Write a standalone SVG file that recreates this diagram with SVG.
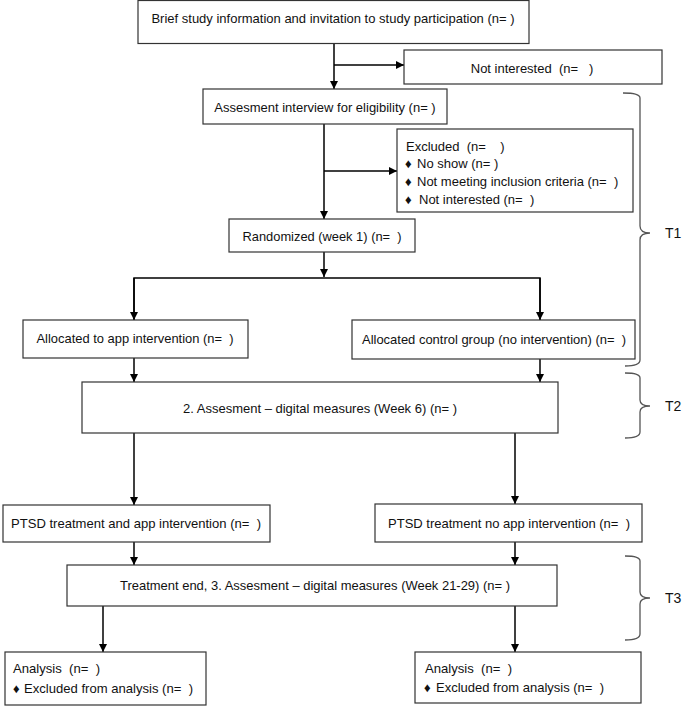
<svg xmlns="http://www.w3.org/2000/svg" width="685" height="706" viewBox="0 0 685 706">
<defs>
<marker id="ah" viewBox="0 0 10 10" refX="10" refY="5" markerWidth="8" markerHeight="8" markerUnits="userSpaceOnUse" orient="auto">
<path d="M0,0 L10,5 L0,10 z" fill="#000"/>
</marker>
<style>
.box{fill:#fff;stroke:#333;stroke-width:1.2}
.t{font-family:"Liberation Sans",Arial,sans-serif;font-size:13px;fill:#111}
.c{text-anchor:middle}
.con{fill:none;stroke:#000;stroke-width:1.5}
.arr{marker-end:url(#ah)}
.br{fill:none;stroke:#555;stroke-width:1.3}
.bl{font-family:"Liberation Sans",Arial,sans-serif;font-size:14px;fill:#111}
</style>
</defs>
<rect width="685" height="706" fill="#fff"/>
<g id="connectors">
<path class="con arr" d="M334,43 V89"/>
<path class="con arr" d="M334,65 H404"/>
<path class="con arr" d="M324,124 V219"/>
<path class="con arr" d="M324,171 H397"/>
<path class="con arr" d="M324,252 V277"/>
<path class="con" d="M134,320 V278 H540 V320"/>
<path class="con arr" d="M134,278 V320"/>
<path class="con arr" d="M540,278 V320"/>
<path class="con arr" d="M134,358 V382"/>
<path class="con arr" d="M540,359 V382"/>
<path class="con arr" d="M134,433 V505"/>
<path class="con arr" d="M515,433 V504"/>
<path class="con arr" d="M134,542 V565"/>
<path class="con arr" d="M515,542 V565"/>
<path class="con arr" d="M103,606 V652"/>
<path class="con arr" d="M515,606 V652"/>
</g>
<g id="n1"><rect class="box" x="138" y="0.5" width="391" height="43"/>
<text class="t c" x="333" y="23">Brief study information and invitation to study participation (n= )</text></g>
<g id="n2"><rect class="box" x="404" y="50" width="258" height="34"/>
<text class="t c" x="532" y="73" font-size="14" xml:space="preserve">Not interested  (n=   )</text></g>
<g id="n3"><rect class="box" x="203" y="89" width="244" height="35"/>
<text class="t c" x="325" y="112">Assesment interview for eligibility (n=  )</text></g>
<g id="n4"><rect class="box" x="397" y="129" width="236" height="83"/>
<text class="t" x="406" y="151" xml:space="preserve">Excluded  (n=    )</text>
<text class="t" x="405" y="168" font-size="9">♦</text><text class="t" x="417" y="168">No show (n= )</text>
<text class="t" x="405" y="186" font-size="9">♦</text><text class="t" x="417" y="186" xml:space="preserve">Not meeting inclusion criteria (n=  )</text>
<text class="t" x="405" y="204" font-size="9">♦</text><text class="t" x="419" y="204" xml:space="preserve">Not interested (n=  )</text></g>
<g id="n5"><rect class="box" x="229" y="219" width="186" height="33"/>
<text class="t c" x="322" y="241" textLength="159" lengthAdjust="spacingAndGlyphs" xml:space="preserve">Randomized (week 1) (n=  )</text></g>
<g id="n6"><rect class="box" x="23" y="320" width="225" height="38"/>
<text class="t c" x="135" y="343" textLength="197" lengthAdjust="spacingAndGlyphs" xml:space="preserve">Allocated to app intervention (n=  )</text></g>
<g id="n7"><rect class="box" x="352" y="320" width="283" height="39"/>
<text class="t c" x="494" y="344" textLength="264" lengthAdjust="spacingAndGlyphs" xml:space="preserve">Allocated control group (no intervention) (n=  )</text></g>
<g id="n8"><rect class="box" x="82" y="382" width="476" height="51"/>
<text class="t c" x="320" y="413" textLength="274" lengthAdjust="spacingAndGlyphs">2. Assesment – digital measures (Week 6) (n= )</text></g>
<g id="n9"><rect class="box" x="3" y="505" width="267" height="37"/>
<text class="t c" x="136" y="528" textLength="250" lengthAdjust="spacingAndGlyphs" xml:space="preserve">PTSD treatment and app intervention (n=  )</text></g>
<g id="n10"><rect class="box" x="375" y="504" width="267" height="38"/>
<text class="t c" x="509" y="528" textLength="242" lengthAdjust="spacingAndGlyphs" xml:space="preserve">PTSD treatment no app intervention (n=  )</text></g>
<g id="n11"><rect class="box" x="67" y="565" width="490" height="41"/>
<text class="t c" x="315" y="590" textLength="390" lengthAdjust="spacingAndGlyphs">Treatment end, 3. Assesment – digital measures (Week 21-29) (n= )</text></g>
<g id="n12"><rect class="box" x="5" y="652" width="201" height="53"/>
<text class="t" x="13" y="673" textLength="87" lengthAdjust="spacingAndGlyphs" xml:space="preserve">Analysis  (n=  )</text>
<text class="t" x="13" y="693" font-size="9">♦</text>
<text class="t" x="24" y="693" textLength="169" lengthAdjust="spacingAndGlyphs" xml:space="preserve">Excluded from analysis (n=  )</text></g>
<g id="n13"><rect class="box" x="415" y="652" width="226" height="51"/>
<text class="t" x="425" y="673" textLength="87" lengthAdjust="spacingAndGlyphs" xml:space="preserve">Analysis  (n=  )</text>
<text class="t" x="424" y="692" font-size="9">♦</text>
<text class="t" x="436" y="692" textLength="168" lengthAdjust="spacingAndGlyphs" xml:space="preserve">Excluded from analysis (n=  )</text></g>
<g id="brace1"><path class="br" d="M623,93 Q640,93 640,98 V226 Q640,233 650,233 Q640,233 640,240 V360 Q640,366 625,366"/>
<text class="bl" x="665" y="238">T1</text></g>
<g id="brace2"><path class="br" d="M625,373 Q640,373 640,378 V400 Q640,406 650,406 Q640,406 640,412 V432 Q640,438 625,438"/>
<text class="bl" x="665" y="411">T2</text></g>
<g id="brace3"><path class="br" d="M625,556 Q640,556 640,561 V592 Q640,598 650,598 Q640,598 640,604 V634 Q640,640 625,640"/>
<text class="bl" x="665" y="603">T3</text></g>
</svg>
